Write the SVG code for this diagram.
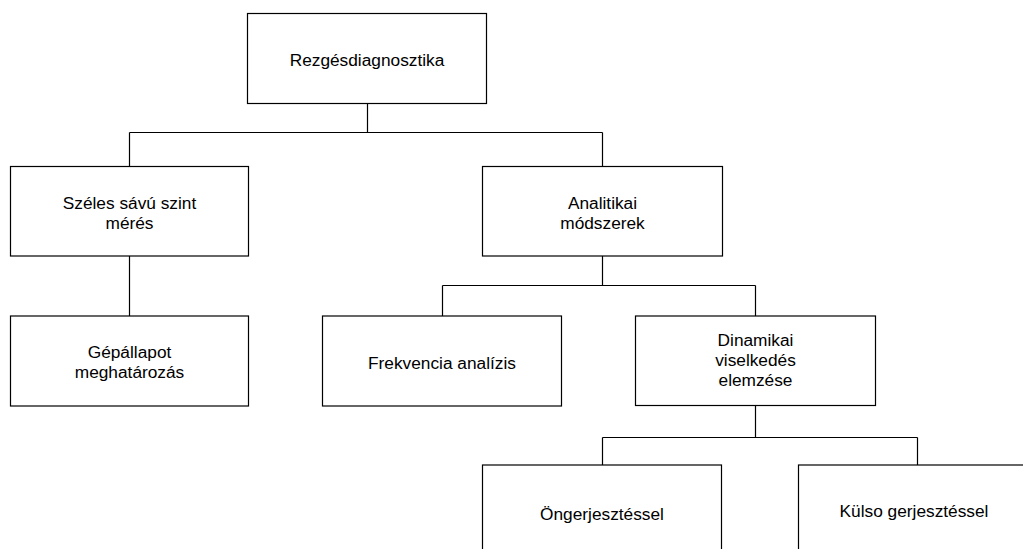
<svg xmlns="http://www.w3.org/2000/svg" width="1023" height="549" viewBox="0 0 1023 549">
<style>
.box{fill:#fff;stroke:#000;stroke-width:1.2}
.lbl{font-family:"Liberation Sans",Arial,sans-serif;font-size:17.3px;fill:#000;text-anchor:middle}
.conn{fill:none;stroke:#000;stroke-width:1.2}
</style>
<rect width="1023" height="549" fill="#fff"/>
<g id="connectors">
<path class="conn" d="M367.5,103.5V132.5M129.5,132.5H602.5M129.5,132.5V166.5M602.5,132.5V166.5"/>
<path class="conn" d="M129.5,256V316"/>
<path class="conn" d="M602.5,256V285.5M442.5,285.5H755.5M442.5,285.5V316M755.5,285.5V316"/>
<path class="conn" d="M755.5,405.5V437.5M602.5,437.5H917.5M602.5,437.5V465M917.5,437.5V465"/>
</g>
<g id="root">
<rect class="box" x="247.5" y="13.5" width="239" height="90"/>
<text class="lbl" x="367" y="66">Rezgésdiagnosztika</text>
</g>
<g id="szeles">
<rect class="box" x="10.5" y="166.5" width="238" height="89.5"/>
<text class="lbl" x="129.5" y="209">Széles sávú szint</text>
<text class="lbl" x="129.5" y="229">mérés</text>
</g>
<g id="analitikai">
<rect class="box" x="482.5" y="166.5" width="240" height="89.5"/>
<text class="lbl" x="602.5" y="209">Analitikai</text>
<text class="lbl" x="602.5" y="229">módszerek</text>
</g>
<g id="gepallapot">
<rect class="box" x="10.5" y="316" width="238" height="90"/>
<text class="lbl" x="129.5" y="358">Gépállapot</text>
<text class="lbl" x="129.5" y="378">meghatározás</text>
</g>
<g id="frekvencia">
<rect class="box" x="322.5" y="316" width="239" height="90"/>
<text class="lbl" x="442" y="369">Frekvencia analízis</text>
</g>
<g id="dinamikai">
<rect class="box" x="635.5" y="316" width="240" height="89.5"/>
<text class="lbl" x="755.5" y="346">Dinamikai</text>
<text class="lbl" x="755.5" y="366">viselkedés</text>
<text class="lbl" x="755.5" y="386">elemzése</text>
</g>
<g id="ongerjesztessel">
<rect class="box" x="482.5" y="465" width="239" height="100"/>
<text class="lbl" x="602" y="520">Öngerjesztéssel</text>
</g>
<g id="kulso">
<rect class="box" x="798.5" y="465" width="240" height="100"/>
<text class="lbl" x="914" y="517">Külso gerjesztéssel</text>
</g>
</svg>
